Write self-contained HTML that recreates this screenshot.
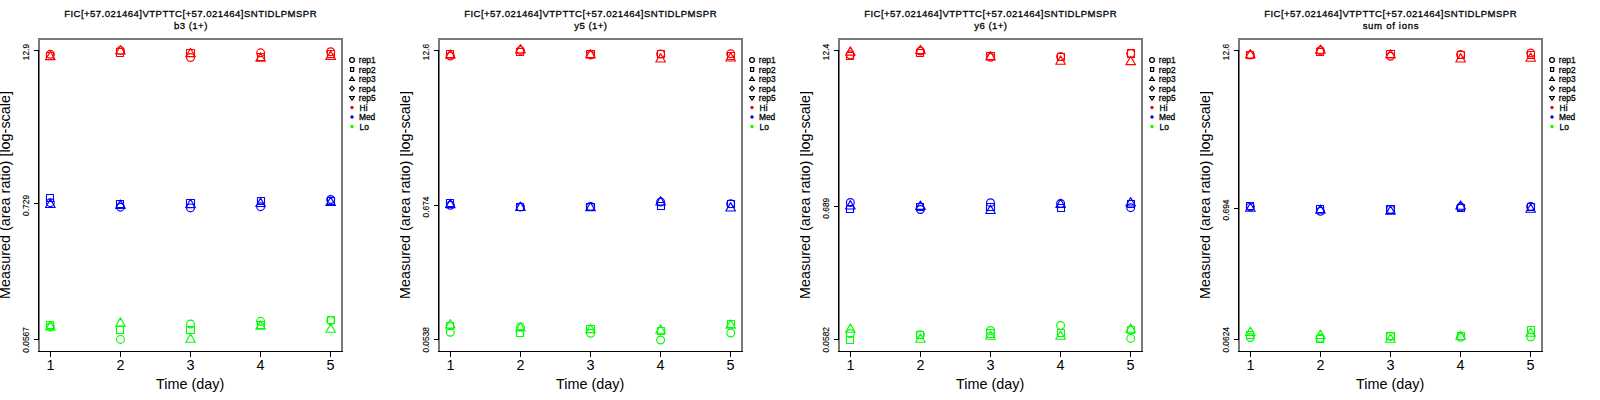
<!DOCTYPE html>
<html><head><meta charset="utf-8"><title>chart</title>
<style>
html,body{margin:0;padding:0;background:#fff;overflow:hidden}
svg{display:block}
text{font-family:"Liberation Sans",sans-serif;fill:#000}
.ttl{font-size:9.6px;font-weight:normal;letter-spacing:0.44px;stroke:#000;stroke-width:0.28px}
.lab{font-size:14.4px}
.ytk{font-size:8.4px;stroke:#000;stroke-width:0.15px}
.leg{font-size:8.4px;font-weight:normal;stroke:#000;stroke-width:0.28px;letter-spacing:0.05px}
</style></head><body>
<svg width="1600" height="400" viewBox="0 0 1600 400">
<defs><clipPath id="pc"><rect x="0" y="0" width="400" height="400"/></clipPath></defs>
<rect width="1600" height="400" fill="#fff"/>
<g transform="translate(0,0)" clip-path="url(#pc)">
<g fill="#7a7a7a" shape-rendering="crispEdges">
<rect x="38" y="38" width="305" height="2"/>
<rect x="38" y="38" width="2" height="314"/>
<rect x="341" y="38" width="2" height="314"/>
</g>
<g fill="#000" shape-rendering="crispEdges">
<rect x="38" y="351" width="305" height="1"/>
<rect x="38" y="50" width="1" height="290"/>
<rect x="34" y="50" width="5" height="1"/>
<rect x="34" y="203" width="5" height="1"/>
<rect x="34" y="339" width="5" height="1"/>
<rect x="50" y="351" width="1" height="6"/>
<rect x="120" y="351" width="1" height="6"/>
<rect x="190" y="351" width="1" height="6"/>
<rect x="260" y="351" width="1" height="6"/>
<rect x="330" y="351" width="1" height="6"/>
</g>
<text class="ttl" x="190.6" y="17" text-anchor="middle">FIC[+57.021464]VTPTTC[+57.021464]SNTIDLPMSPR</text>
<text class="ttl" x="190.9" y="29" text-anchor="middle">b3 (1+)</text>
<text class="lab" x="190.2" y="388.8" text-anchor="middle">Time (day)</text>
<text class="lab" transform="translate(10.2,195) rotate(-90)" text-anchor="middle">Measured (area ratio) [log-scale]</text>
<text class="lab" x="50.5" y="370" text-anchor="middle">1</text>
<text class="lab" x="120.5" y="370" text-anchor="middle">2</text>
<text class="lab" x="190.5" y="370" text-anchor="middle">3</text>
<text class="lab" x="260.5" y="370" text-anchor="middle">4</text>
<text class="lab" x="330.5" y="370" text-anchor="middle">5</text>
<text class="ytk" transform="translate(29,52) rotate(-90)" text-anchor="middle">12.9</text>
<text class="ytk" transform="translate(29,205.4) rotate(-90)" text-anchor="middle">0.729</text>
<text class="ytk" transform="translate(29,339.9) rotate(-90)" text-anchor="middle">0.0567</text>
<g fill="none" stroke-width="1.15" stroke-linejoin="round">
<circle cx="50.35" cy="54.3" r="3.9" stroke="#ff0000"/>
<rect x="46.5" y="52.5" width="7" height="7" stroke="#ff0000" stroke-width="1.1"/>
<path d="M50.35 51.35L55.16 59.67L45.54 59.67Z" stroke="#ff0000"/>
<circle cx="120.43" cy="50.4" r="3.9" stroke="#ff0000"/>
<rect x="116.5" y="48.5" width="7" height="8" stroke="#ff0000" stroke-width="1.1"/>
<path d="M120.43 45.65L125.24 53.98L115.62 53.98Z" stroke="#ff0000"/>
<circle cx="190.5" cy="57.6" r="3.9" stroke="#ff0000"/>
<rect x="186.5" y="49.5" width="8" height="7" stroke="#ff0000" stroke-width="1.1"/>
<path d="M190.5 48.35L195.31 56.67L185.69 56.67Z" stroke="#ff0000"/>
<circle cx="260.6" cy="52.8" r="3.9" stroke="#ff0000"/>
<rect x="257.5" y="53.5" width="7" height="7" stroke="#ff0000" stroke-width="1.1"/>
<path d="M260.6 52.95L265.41 61.27L255.79 61.27Z" stroke="#ff0000"/>
<circle cx="330.67" cy="51.7" r="3.9" stroke="#ff0000"/>
<rect x="327.5" y="50.5" width="7" height="7" stroke="#ff0000" stroke-width="1.1"/>
<path d="M330.67 51.05L335.48 59.38L325.86 59.38Z" stroke="#ff0000"/>
<circle cx="50.35" cy="202.7" r="3.9" stroke="#0000ff"/>
<rect x="46.5" y="194.5" width="7" height="7" stroke="#0000ff" stroke-width="1.1"/>
<path d="M50.35 199.15L55.16 207.47L45.54 207.47Z" stroke="#0000ff"/>
<circle cx="120.43" cy="207.2" r="3.9" stroke="#0000ff"/>
<rect x="116.5" y="200.5" width="7" height="7" stroke="#0000ff" stroke-width="1.1"/>
<path d="M120.43 200.05L125.24 208.38L115.62 208.38Z" stroke="#0000ff"/>
<circle cx="190.5" cy="207.9" r="3.9" stroke="#0000ff"/>
<rect x="186.5" y="199.5" width="8" height="8" stroke="#0000ff" stroke-width="1.1"/>
<path d="M190.5 199.25L195.31 207.58L185.69 207.58Z" stroke="#0000ff"/>
<circle cx="260.6" cy="206.7" r="3.9" stroke="#0000ff"/>
<rect x="257.5" y="197.5" width="7" height="7" stroke="#0000ff" stroke-width="1.1"/>
<path d="M260.6 198.15L265.41 206.47L255.79 206.47Z" stroke="#0000ff"/>
<circle cx="330.67" cy="199.5" r="3.9" stroke="#0000ff"/>
<rect x="327.5" y="197.5" width="7" height="7" stroke="#0000ff" stroke-width="1.1"/>
<path d="M330.67 197.1L335.48 205.43L325.86 205.43Z" stroke="#0000ff"/>
<circle cx="50.35" cy="327" r="3.9" stroke="#00ff00"/>
<rect x="46.5" y="321.5" width="7" height="7" stroke="#00ff00" stroke-width="1.1"/>
<path d="M50.35 321.6L55.16 329.92L45.54 329.92Z" stroke="#00ff00"/>
<circle cx="120.43" cy="339.4" r="3.9" stroke="#00ff00"/>
<rect x="116.5" y="326.5" width="7" height="7" stroke="#00ff00" stroke-width="1.1"/>
<path d="M120.43 317.85L125.24 326.17L115.62 326.17Z" stroke="#00ff00"/>
<circle cx="190.5" cy="324" r="3.9" stroke="#00ff00"/>
<rect x="186.5" y="326.5" width="8" height="7" stroke="#00ff00" stroke-width="1.1"/>
<path d="M190.5 333.95L195.31 342.27L185.69 342.27Z" stroke="#00ff00"/>
<circle cx="260.6" cy="321.3" r="3.9" stroke="#00ff00"/>
<rect x="257.5" y="321.5" width="7" height="7" stroke="#00ff00" stroke-width="1.1"/>
<path d="M260.6 320.85L265.41 329.17L255.79 329.17Z" stroke="#00ff00"/>
<circle cx="330.67" cy="320.5" r="3.9" stroke="#00ff00"/>
<rect x="327.5" y="316.5" width="7" height="7" stroke="#00ff00" stroke-width="1.1"/>
<path d="M330.67 323.95L335.48 332.27L325.86 332.27Z" stroke="#00ff00"/>
</g>
<g fill="none" stroke="#000" stroke-width="1.2">
<circle cx="352" cy="60" r="2.4"/>
<rect x="350.55" y="67.6" width="3.1" height="3.8"/>
<path d="M352 76.9L354.3 80.5L349.7 80.5Z"/>
<path d="M352 86.2L354.3 88.5L352 90.8L349.7 88.5Z"/>
<path d="M352 100.1L354.3 96.5L349.7 96.5Z"/>
</g>
<circle cx="352" cy="107.5" r="1.7" fill="#ff0000"/>
<circle cx="352" cy="117" r="1.7" fill="#0000ff"/>
<circle cx="352" cy="126.5" r="1.7" fill="#00ff00"/>
<text class="leg" x="358.8" y="63">rep1</text>
<text class="leg" x="358.8" y="72.5">rep2</text>
<text class="leg" x="358.8" y="82">rep3</text>
<text class="leg" x="358.8" y="91.5">rep4</text>
<text class="leg" x="358.8" y="101">rep5</text>
<text class="leg" x="359.6" y="110.5">Hi</text>
<text class="leg" x="358.9" y="120">Med</text>
<text class="leg" x="359.6" y="129.5">Lo</text>
</g>
<g transform="translate(400,0)" clip-path="url(#pc)">
<g fill="#7a7a7a" shape-rendering="crispEdges">
<rect x="38" y="38" width="305" height="2"/>
<rect x="38" y="38" width="2" height="314"/>
<rect x="341" y="38" width="2" height="314"/>
</g>
<g fill="#000" shape-rendering="crispEdges">
<rect x="38" y="351" width="305" height="1"/>
<rect x="38" y="50" width="1" height="290"/>
<rect x="34" y="50" width="5" height="1"/>
<rect x="34" y="205" width="5" height="1"/>
<rect x="34" y="339" width="5" height="1"/>
<rect x="50" y="351" width="1" height="6"/>
<rect x="120" y="351" width="1" height="6"/>
<rect x="190" y="351" width="1" height="6"/>
<rect x="260" y="351" width="1" height="6"/>
<rect x="330" y="351" width="1" height="6"/>
</g>
<text class="ttl" x="190.6" y="17" text-anchor="middle">FIC[+57.021464]VTPTTC[+57.021464]SNTIDLPMSPR</text>
<text class="ttl" x="190.9" y="29" text-anchor="middle">y5 (1+)</text>
<text class="lab" x="190.2" y="388.8" text-anchor="middle">Time (day)</text>
<text class="lab" transform="translate(10.2,195) rotate(-90)" text-anchor="middle">Measured (area ratio) [log-scale]</text>
<text class="lab" x="50.5" y="370" text-anchor="middle">1</text>
<text class="lab" x="120.5" y="370" text-anchor="middle">2</text>
<text class="lab" x="190.5" y="370" text-anchor="middle">3</text>
<text class="lab" x="260.5" y="370" text-anchor="middle">4</text>
<text class="lab" x="330.5" y="370" text-anchor="middle">5</text>
<text class="ytk" transform="translate(29,52) rotate(-90)" text-anchor="middle">12.6</text>
<text class="ytk" transform="translate(29,207) rotate(-90)" text-anchor="middle">0.674</text>
<text class="ytk" transform="translate(29,339.8) rotate(-90)" text-anchor="middle">0.0538</text>
<g fill="none" stroke-width="1.15" stroke-linejoin="round">
<circle cx="50.35" cy="56" r="3.9" stroke="#ff0000"/>
<rect x="46.5" y="50.5" width="7" height="7" stroke="#ff0000" stroke-width="1.1"/>
<path d="M50.35 49.95L55.16 58.27L45.54 58.27Z" stroke="#ff0000"/>
<circle cx="120.43" cy="50.4" r="3.9" stroke="#ff0000"/>
<rect x="116.5" y="48.5" width="7" height="7" stroke="#ff0000" stroke-width="1.1"/>
<path d="M120.43 44.55L125.24 52.88L115.62 52.88Z" stroke="#ff0000"/>
<circle cx="190.5" cy="55" r="3.9" stroke="#ff0000"/>
<rect x="186.5" y="50.5" width="8" height="7" stroke="#ff0000" stroke-width="1.1"/>
<path d="M190.5 49.65L195.31 57.98L185.69 57.98Z" stroke="#ff0000"/>
<circle cx="260.6" cy="54" r="3.9" stroke="#ff0000"/>
<rect x="257.5" y="50.5" width="7" height="7" stroke="#ff0000" stroke-width="1.1"/>
<path d="M260.6 53.65L265.41 61.98L255.79 61.98Z" stroke="#ff0000"/>
<circle cx="330.67" cy="53.7" r="3.9" stroke="#ff0000"/>
<rect x="327.5" y="52.5" width="7" height="7" stroke="#ff0000" stroke-width="1.1"/>
<path d="M330.67 52.65L335.48 60.98L325.86 60.98Z" stroke="#ff0000"/>
<circle cx="50.35" cy="205.3" r="3.9" stroke="#0000ff"/>
<rect x="46.5" y="199.5" width="7" height="7" stroke="#0000ff" stroke-width="1.1"/>
<path d="M50.35 199.35L55.16 207.68L45.54 207.68Z" stroke="#0000ff"/>
<circle cx="120.43" cy="207" r="3.9" stroke="#0000ff"/>
<rect x="116.5" y="203.5" width="7" height="7" stroke="#0000ff" stroke-width="1.1"/>
<path d="M120.43 202.15L125.24 210.47L115.62 210.47Z" stroke="#0000ff"/>
<circle cx="190.5" cy="206.5" r="3.9" stroke="#0000ff"/>
<rect x="186.5" y="203.5" width="8" height="7" stroke="#0000ff" stroke-width="1.1"/>
<path d="M190.5 202.35L195.31 210.68L185.69 210.68Z" stroke="#0000ff"/>
<circle cx="260.6" cy="202" r="3.9" stroke="#0000ff"/>
<rect x="257.5" y="202.5" width="7" height="7" stroke="#0000ff" stroke-width="1.1"/>
<path d="M260.6 196.65L265.41 204.97L255.79 204.97Z" stroke="#0000ff"/>
<circle cx="330.67" cy="203.7" r="3.9" stroke="#0000ff"/>
<rect x="327.5" y="200.5" width="7" height="7" stroke="#0000ff" stroke-width="1.1"/>
<path d="M330.67 202.65L335.48 210.97L325.86 210.97Z" stroke="#0000ff"/>
<circle cx="50.35" cy="332.3" r="3.9" stroke="#00ff00"/>
<rect x="46.5" y="322.5" width="7" height="7" stroke="#00ff00" stroke-width="1.1"/>
<path d="M50.35 319.65L55.16 327.97L45.54 327.97Z" stroke="#00ff00"/>
<circle cx="120.43" cy="327" r="3.9" stroke="#00ff00"/>
<rect x="116.5" y="329.5" width="7" height="7" stroke="#00ff00" stroke-width="1.1"/>
<path d="M120.43 322.65L125.24 330.97L115.62 330.97Z" stroke="#00ff00"/>
<circle cx="190.5" cy="333.3" r="3.9" stroke="#00ff00"/>
<rect x="186.5" y="325.5" width="8" height="7" stroke="#00ff00" stroke-width="1.1"/>
<path d="M190.5 324.35L195.31 332.67L185.69 332.67Z" stroke="#00ff00"/>
<circle cx="260.6" cy="340" r="3.9" stroke="#00ff00"/>
<rect x="257.5" y="327.5" width="7" height="7" stroke="#00ff00" stroke-width="1.1"/>
<path d="M260.6 324.95L265.41 333.27L255.79 333.27Z" stroke="#00ff00"/>
<circle cx="330.67" cy="333" r="3.9" stroke="#00ff00"/>
<rect x="327.5" y="320.5" width="7" height="7" stroke="#00ff00" stroke-width="1.1"/>
<path d="M330.67 319.95L335.48 328.27L325.86 328.27Z" stroke="#00ff00"/>
</g>
<g fill="none" stroke="#000" stroke-width="1.2">
<circle cx="352" cy="60" r="2.4"/>
<rect x="350.55" y="67.6" width="3.1" height="3.8"/>
<path d="M352 76.9L354.3 80.5L349.7 80.5Z"/>
<path d="M352 86.2L354.3 88.5L352 90.8L349.7 88.5Z"/>
<path d="M352 100.1L354.3 96.5L349.7 96.5Z"/>
</g>
<circle cx="352" cy="107.5" r="1.7" fill="#ff0000"/>
<circle cx="352" cy="117" r="1.7" fill="#0000ff"/>
<circle cx="352" cy="126.5" r="1.7" fill="#00ff00"/>
<text class="leg" x="358.8" y="63">rep1</text>
<text class="leg" x="358.8" y="72.5">rep2</text>
<text class="leg" x="358.8" y="82">rep3</text>
<text class="leg" x="358.8" y="91.5">rep4</text>
<text class="leg" x="358.8" y="101">rep5</text>
<text class="leg" x="359.6" y="110.5">Hi</text>
<text class="leg" x="358.9" y="120">Med</text>
<text class="leg" x="359.6" y="129.5">Lo</text>
</g>
<g transform="translate(800,0)" clip-path="url(#pc)">
<g fill="#7a7a7a" shape-rendering="crispEdges">
<rect x="38" y="38" width="305" height="2"/>
<rect x="38" y="38" width="2" height="314"/>
<rect x="341" y="38" width="2" height="314"/>
</g>
<g fill="#000" shape-rendering="crispEdges">
<rect x="38" y="351" width="305" height="1"/>
<rect x="38" y="50" width="1" height="290"/>
<rect x="34" y="50" width="5" height="1"/>
<rect x="34" y="206" width="5" height="1"/>
<rect x="34" y="339" width="5" height="1"/>
<rect x="50" y="351" width="1" height="6"/>
<rect x="120" y="351" width="1" height="6"/>
<rect x="190" y="351" width="1" height="6"/>
<rect x="260" y="351" width="1" height="6"/>
<rect x="330" y="351" width="1" height="6"/>
</g>
<text class="ttl" x="190.6" y="17" text-anchor="middle">FIC[+57.021464]VTPTTC[+57.021464]SNTIDLPMSPR</text>
<text class="ttl" x="190.9" y="29" text-anchor="middle">y6 (1+)</text>
<text class="lab" x="190.2" y="388.8" text-anchor="middle">Time (day)</text>
<text class="lab" transform="translate(10.2,195) rotate(-90)" text-anchor="middle">Measured (area ratio) [log-scale]</text>
<text class="lab" x="50.5" y="370" text-anchor="middle">1</text>
<text class="lab" x="120.5" y="370" text-anchor="middle">2</text>
<text class="lab" x="190.5" y="370" text-anchor="middle">3</text>
<text class="lab" x="260.5" y="370" text-anchor="middle">4</text>
<text class="lab" x="330.5" y="370" text-anchor="middle">5</text>
<text class="ytk" transform="translate(29,52) rotate(-90)" text-anchor="middle">12.4</text>
<text class="ytk" transform="translate(29,208.2) rotate(-90)" text-anchor="middle">0.689</text>
<text class="ytk" transform="translate(29,339.8) rotate(-90)" text-anchor="middle">0.0582</text>
<g fill="none" stroke-width="1.15" stroke-linejoin="round">
<circle cx="50.35" cy="54.85" r="3.9" stroke="#ff0000"/>
<rect x="46.5" y="52.5" width="7" height="7" stroke="#ff0000" stroke-width="1.1"/>
<path d="M50.35 46.85L55.16 55.17L45.54 55.17Z" stroke="#ff0000"/>
<circle cx="120.43" cy="51" r="3.9" stroke="#ff0000"/>
<rect x="116.5" y="49.5" width="7" height="7" stroke="#ff0000" stroke-width="1.1"/>
<path d="M120.43 45.25L125.24 53.57L115.62 53.57Z" stroke="#ff0000"/>
<circle cx="190.5" cy="57.3" r="3.9" stroke="#ff0000"/>
<rect x="186.5" y="52.5" width="8" height="7" stroke="#ff0000" stroke-width="1.1"/>
<path d="M190.5 51.65L195.31 59.98L185.69 59.98Z" stroke="#ff0000"/>
<circle cx="260.6" cy="56.5" r="3.9" stroke="#ff0000"/>
<rect x="257.5" y="53.5" width="7" height="7" stroke="#ff0000" stroke-width="1.1"/>
<path d="M260.6 55.95L265.41 64.28L255.79 64.28Z" stroke="#ff0000"/>
<circle cx="330.67" cy="53.6" r="3.9" stroke="#ff0000"/>
<rect x="327.5" y="49.5" width="7" height="8" stroke="#ff0000" stroke-width="1.1"/>
<path d="M330.67 56.35L335.48 64.67L325.86 64.67Z" stroke="#ff0000"/>
<circle cx="50.35" cy="202.5" r="3.9" stroke="#0000ff"/>
<rect x="46.5" y="205.5" width="7" height="7" stroke="#0000ff" stroke-width="1.1"/>
<path d="M50.35 200.65L55.16 208.97L45.54 208.97Z" stroke="#0000ff"/>
<circle cx="120.43" cy="209.5" r="3.9" stroke="#0000ff"/>
<rect x="116.5" y="203.5" width="7" height="7" stroke="#0000ff" stroke-width="1.1"/>
<path d="M120.43 201.05L125.24 209.38L115.62 209.38Z" stroke="#0000ff"/>
<circle cx="190.5" cy="202.7" r="3.9" stroke="#0000ff"/>
<rect x="186.5" y="203.5" width="8" height="7" stroke="#0000ff" stroke-width="1.1"/>
<path d="M190.5 205.15L195.31 213.47L185.69 213.47Z" stroke="#0000ff"/>
<circle cx="260.6" cy="203.5" r="3.9" stroke="#0000ff"/>
<rect x="257.5" y="204.5" width="7" height="7" stroke="#0000ff" stroke-width="1.1"/>
<path d="M260.6 199.15L265.41 207.47L255.79 207.47Z" stroke="#0000ff"/>
<circle cx="330.67" cy="207.7" r="3.9" stroke="#0000ff"/>
<rect x="327.5" y="200.5" width="7" height="7" stroke="#0000ff" stroke-width="1.1"/>
<path d="M330.67 197.65L335.48 205.97L325.86 205.97Z" stroke="#0000ff"/>
<circle cx="50.35" cy="333.5" r="3.9" stroke="#00ff00"/>
<rect x="46.5" y="336.5" width="7" height="7" stroke="#00ff00" stroke-width="1.1"/>
<path d="M50.35 323.95L55.16 332.27L45.54 332.27Z" stroke="#00ff00"/>
<circle cx="120.43" cy="334.8" r="3.9" stroke="#00ff00"/>
<rect x="116.5" y="331.5" width="7" height="7" stroke="#00ff00" stroke-width="1.1"/>
<path d="M120.43 333.95L125.24 342.27L115.62 342.27Z" stroke="#00ff00"/>
<circle cx="190.5" cy="330.5" r="3.9" stroke="#00ff00"/>
<rect x="186.5" y="329.5" width="8" height="8" stroke="#00ff00" stroke-width="1.1"/>
<path d="M190.5 330.95L195.31 339.27L185.69 339.27Z" stroke="#00ff00"/>
<circle cx="260.6" cy="325.5" r="3.9" stroke="#00ff00"/>
<rect x="257.5" y="329.5" width="7" height="7" stroke="#00ff00" stroke-width="1.1"/>
<path d="M260.6 330.95L265.41 339.27L255.79 339.27Z" stroke="#00ff00"/>
<circle cx="330.67" cy="338.4" r="3.9" stroke="#00ff00"/>
<rect x="327.5" y="326.5" width="7" height="7" stroke="#00ff00" stroke-width="1.1"/>
<path d="M330.67 323.95L335.48 332.27L325.86 332.27Z" stroke="#00ff00"/>
</g>
<g fill="none" stroke="#000" stroke-width="1.2">
<circle cx="352" cy="60" r="2.4"/>
<rect x="350.55" y="67.6" width="3.1" height="3.8"/>
<path d="M352 76.9L354.3 80.5L349.7 80.5Z"/>
<path d="M352 86.2L354.3 88.5L352 90.8L349.7 88.5Z"/>
<path d="M352 100.1L354.3 96.5L349.7 96.5Z"/>
</g>
<circle cx="352" cy="107.5" r="1.7" fill="#ff0000"/>
<circle cx="352" cy="117" r="1.7" fill="#0000ff"/>
<circle cx="352" cy="126.5" r="1.7" fill="#00ff00"/>
<text class="leg" x="358.8" y="63">rep1</text>
<text class="leg" x="358.8" y="72.5">rep2</text>
<text class="leg" x="358.8" y="82">rep3</text>
<text class="leg" x="358.8" y="91.5">rep4</text>
<text class="leg" x="358.8" y="101">rep5</text>
<text class="leg" x="359.6" y="110.5">Hi</text>
<text class="leg" x="358.9" y="120">Med</text>
<text class="leg" x="359.6" y="129.5">Lo</text>
</g>
<g transform="translate(1200,0)" clip-path="url(#pc)">
<g fill="#7a7a7a" shape-rendering="crispEdges">
<rect x="38" y="38" width="305" height="2"/>
<rect x="38" y="38" width="2" height="314"/>
<rect x="341" y="38" width="2" height="314"/>
</g>
<g fill="#000" shape-rendering="crispEdges">
<rect x="38" y="351" width="305" height="1"/>
<rect x="38" y="50" width="1" height="290"/>
<rect x="34" y="50" width="5" height="1"/>
<rect x="34" y="208" width="5" height="1"/>
<rect x="34" y="339" width="5" height="1"/>
<rect x="50" y="351" width="1" height="6"/>
<rect x="120" y="351" width="1" height="6"/>
<rect x="190" y="351" width="1" height="6"/>
<rect x="260" y="351" width="1" height="6"/>
<rect x="330" y="351" width="1" height="6"/>
</g>
<text class="ttl" x="190.6" y="17" text-anchor="middle">FIC[+57.021464]VTPTTC[+57.021464]SNTIDLPMSPR</text>
<text class="ttl" x="190.9" y="29" text-anchor="middle" style="letter-spacing:0.68px">sum of ions</text>
<text class="lab" x="190.2" y="388.8" text-anchor="middle">Time (day)</text>
<text class="lab" transform="translate(10.2,195) rotate(-90)" text-anchor="middle">Measured (area ratio) [log-scale]</text>
<text class="lab" x="50.5" y="370" text-anchor="middle">1</text>
<text class="lab" x="120.5" y="370" text-anchor="middle">2</text>
<text class="lab" x="190.5" y="370" text-anchor="middle">3</text>
<text class="lab" x="260.5" y="370" text-anchor="middle">4</text>
<text class="lab" x="330.5" y="370" text-anchor="middle">5</text>
<text class="ytk" transform="translate(29,52) rotate(-90)" text-anchor="middle">12.6</text>
<text class="ytk" transform="translate(29,210) rotate(-90)" text-anchor="middle">0.694</text>
<text class="ytk" transform="translate(29,339.8) rotate(-90)" text-anchor="middle">0.0624</text>
<g fill="none" stroke-width="1.15" stroke-linejoin="round">
<circle cx="50.35" cy="55" r="3.9" stroke="#ff0000"/>
<rect x="46.5" y="51.5" width="7" height="7" stroke="#ff0000" stroke-width="1.1"/>
<path d="M50.35 49.65L55.16 57.98L45.54 57.98Z" stroke="#ff0000"/>
<circle cx="120.43" cy="50.5" r="3.9" stroke="#ff0000"/>
<rect x="116.5" y="48.5" width="7" height="7" stroke="#ff0000" stroke-width="1.1"/>
<path d="M120.43 44.95L125.24 53.27L115.62 53.27Z" stroke="#ff0000"/>
<circle cx="190.5" cy="56.3" r="3.9" stroke="#ff0000"/>
<rect x="186.5" y="50.5" width="8" height="7" stroke="#ff0000" stroke-width="1.1"/>
<path d="M190.5 49.65L195.31 57.98L185.69 57.98Z" stroke="#ff0000"/>
<circle cx="260.6" cy="54.5" r="3.9" stroke="#ff0000"/>
<rect x="257.5" y="51.5" width="7" height="7" stroke="#ff0000" stroke-width="1.1"/>
<path d="M260.6 53.65L265.41 61.98L255.79 61.98Z" stroke="#ff0000"/>
<circle cx="330.67" cy="53" r="3.9" stroke="#ff0000"/>
<rect x="327.5" y="51.5" width="7" height="7" stroke="#ff0000" stroke-width="1.1"/>
<path d="M330.67 52.95L335.48 61.27L325.86 61.27Z" stroke="#ff0000"/>
<circle cx="50.35" cy="206.9" r="3.9" stroke="#0000ff"/>
<rect x="46.5" y="202.5" width="7" height="7" stroke="#0000ff" stroke-width="1.1"/>
<path d="M50.35 202.95L55.16 211.28L45.54 211.28Z" stroke="#0000ff"/>
<circle cx="120.43" cy="211.3" r="3.9" stroke="#0000ff"/>
<rect x="116.5" y="205.5" width="7" height="7" stroke="#0000ff" stroke-width="1.1"/>
<path d="M120.43 204.95L125.24 213.28L115.62 213.28Z" stroke="#0000ff"/>
<circle cx="190.5" cy="209.4" r="3.9" stroke="#0000ff"/>
<rect x="186.5" y="205.5" width="8" height="8" stroke="#0000ff" stroke-width="1.1"/>
<path d="M190.5 205.85L195.31 214.18L185.69 214.18Z" stroke="#0000ff"/>
<circle cx="260.6" cy="207" r="3.9" stroke="#0000ff"/>
<rect x="257.5" y="204.5" width="7" height="7" stroke="#0000ff" stroke-width="1.1"/>
<path d="M260.6 200.95L265.41 209.28L255.79 209.28Z" stroke="#0000ff"/>
<circle cx="330.67" cy="206.5" r="3.9" stroke="#0000ff"/>
<rect x="327.5" y="203.5" width="7" height="7" stroke="#0000ff" stroke-width="1.1"/>
<path d="M330.67 203.95L335.48 212.28L325.86 212.28Z" stroke="#0000ff"/>
<circle cx="50.35" cy="337.5" r="3.9" stroke="#00ff00"/>
<rect x="46.5" y="331.5" width="7" height="7" stroke="#00ff00" stroke-width="1.1"/>
<path d="M50.35 327.15L55.16 335.47L45.54 335.47Z" stroke="#00ff00"/>
<circle cx="120.43" cy="338.2" r="3.9" stroke="#00ff00"/>
<rect x="116.5" y="335.5" width="7" height="7" stroke="#00ff00" stroke-width="1.1"/>
<path d="M120.43 330.15L125.24 338.47L115.62 338.47Z" stroke="#00ff00"/>
<circle cx="190.5" cy="336.4" r="3.9" stroke="#00ff00"/>
<rect x="186.5" y="332.5" width="8" height="7" stroke="#00ff00" stroke-width="1.1"/>
<path d="M190.5 333.95L195.31 342.27L185.69 342.27Z" stroke="#00ff00"/>
<circle cx="260.6" cy="337.3" r="3.9" stroke="#00ff00"/>
<rect x="257.5" y="332.5" width="7" height="7" stroke="#00ff00" stroke-width="1.1"/>
<path d="M260.6 331.15L265.41 339.47L255.79 339.47Z" stroke="#00ff00"/>
<circle cx="330.67" cy="337" r="3.9" stroke="#00ff00"/>
<rect x="327.5" y="326.5" width="7" height="7" stroke="#00ff00" stroke-width="1.1"/>
<path d="M330.67 327.95L335.48 336.27L325.86 336.27Z" stroke="#00ff00"/>
</g>
<g fill="none" stroke="#000" stroke-width="1.2">
<circle cx="352" cy="60" r="2.4"/>
<rect x="350.55" y="67.6" width="3.1" height="3.8"/>
<path d="M352 76.9L354.3 80.5L349.7 80.5Z"/>
<path d="M352 86.2L354.3 88.5L352 90.8L349.7 88.5Z"/>
<path d="M352 100.1L354.3 96.5L349.7 96.5Z"/>
</g>
<circle cx="352" cy="107.5" r="1.7" fill="#ff0000"/>
<circle cx="352" cy="117" r="1.7" fill="#0000ff"/>
<circle cx="352" cy="126.5" r="1.7" fill="#00ff00"/>
<text class="leg" x="358.8" y="63">rep1</text>
<text class="leg" x="358.8" y="72.5">rep2</text>
<text class="leg" x="358.8" y="82">rep3</text>
<text class="leg" x="358.8" y="91.5">rep4</text>
<text class="leg" x="358.8" y="101">rep5</text>
<text class="leg" x="359.6" y="110.5">Hi</text>
<text class="leg" x="358.9" y="120">Med</text>
<text class="leg" x="359.6" y="129.5">Lo</text>
</g>
</svg></body></html>
